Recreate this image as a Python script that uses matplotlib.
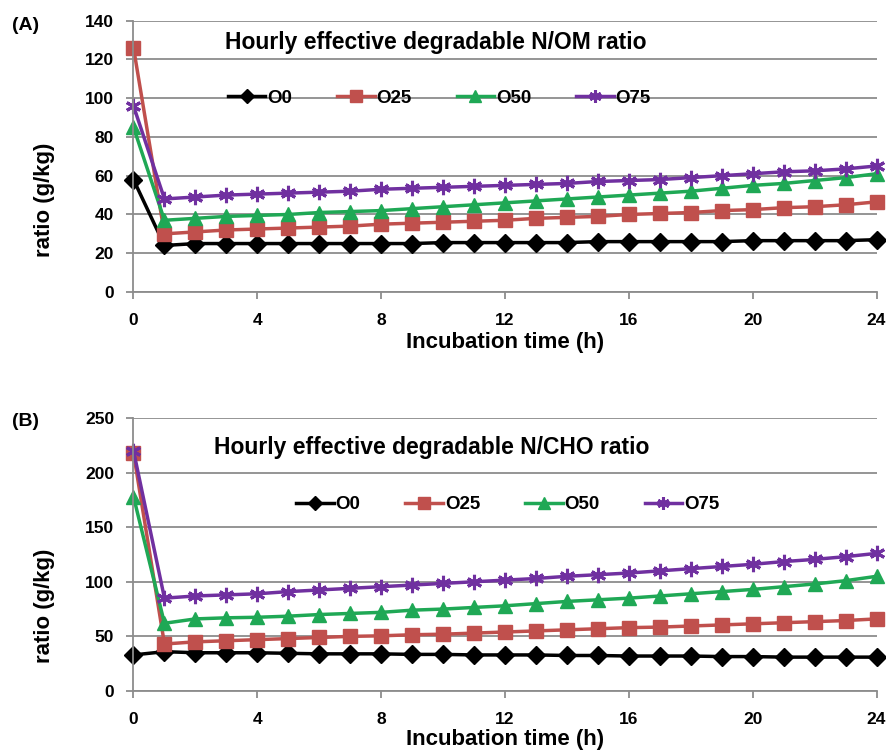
import matplotlib
matplotlib.use("Agg")
import matplotlib.pyplot as plt
import numpy as np

plt.rcParams['font.family'] = ['Liberation Sans', 'DejaVu Sans']
plt.rcParams['font.weight'] = 'bold'

hours = list(range(25))
series_names = ["O0", "O25", "O50", "O75"]

# Panel A: N/OM ratio
om_O0 = [58, 24, 25, 25, 25, 25, 25, 25, 25, 25, 25.5, 25.5, 25.5, 25.5, 25.5, 26, 26, 26, 26, 26, 26.5, 26.5, 26.5, 26.5, 27]
om_O25 = [126, 30, 31, 32, 32.5, 33, 33.5, 34, 35, 35.5, 36, 36.5, 37, 38, 38.5, 39, 40, 40.5, 41, 42, 42.5, 43.5, 44, 45, 46.5]
om_O50 = [85, 37, 38, 39, 39.5, 40, 41, 41.5, 42, 43, 44, 45, 46, 47, 48, 49, 50, 51, 52, 53.5, 55, 56, 57.5, 59, 61]
om_O75 = [96, 48, 49, 50, 50.5, 51, 51.5, 52, 53, 53.5, 54, 54.5, 55, 55.5, 56, 57, 57.5, 58, 59, 60, 61, 62, 62.5, 63.5, 65]

# Panel B: N/CHO ratio
cho_O0 = [33, 36, 35, 35, 35, 34.5, 34, 34, 34, 33.5, 33.5, 33, 33, 33, 32.5, 32.5, 32, 32, 32, 31.5, 31.5, 31, 31, 31, 31]
cho_O25 = [218, 43, 45, 46, 47, 48, 49, 50, 50.5, 51.5, 52, 53, 54, 55, 56, 57, 58, 58.5, 59.5, 60.5, 61.5, 62.5, 63.5, 64.5, 66]
cho_O50 = [178, 62, 66, 67, 67.5, 68.5, 70, 71, 72, 74, 75, 76.5, 78, 80, 82, 83.5, 85, 87, 89, 91, 93, 95.5, 98, 101, 105]
cho_O75 = [220, 85, 87, 88, 89, 91, 92.5, 94, 95.5, 97, 98.5, 100, 101.5, 103, 105, 106.5, 108, 110, 112, 114, 116, 118.5, 120.5, 123, 126]

colors = ["#000000", "#C0504D", "#1FA855", "#7030A0"]
markers = ["D", "s", "^", (6, 2, 0)]
msizes = [9, 10, 10, 11]

fig = plt.figure(figsize=(8.87, 7.55), dpi=100)
axA = fig.add_axes([0.1505, 0.6132, 0.8377, 0.3596])
axB = fig.add_axes([0.1505, 0.0848, 0.8377, 0.3616])

def draw(ax, data, ymax, ystep, title, title_pos, label, label_y, ylab_y, xlab_y, leg_anchor):
    for name, vals, c, m, ms in zip(series_names, data, colors, markers, msizes):
        ax.plot(hours, vals, color=c, marker=m, markersize=ms, lw=2.5,
                markeredgewidth=2.2 if m == (6, 2, 0) else 1, label=name, clip_on=False)
    ax.set_xlim(0, 24)
    ax.set_ylim(0, ymax)
    ax.set_xticks(range(0, 25, 4))
    ax.set_yticks(np.arange(0, ymax + 1, ystep))
    ax.grid(axis='y', color='#8c8c8c', lw=1.3)
    ax.set_axisbelow(True)
    for s in ['top', 'right']:
        ax.spines[s].set_visible(False)
    for s in ['left', 'bottom']:
        ax.spines[s].set_color('#8c8c8c')
        ax.spines[s].set_linewidth(1.3)
    ax.tick_params(axis='both', labelsize=12.5, color='#8c8c8c', width=1.3, length=5)
    ax.tick_params(axis='x', pad=10)
    ax.tick_params(axis='y', pad=9)
    for t in ax.get_xticklabels() + ax.get_yticklabels():
        t.set_fontweight('bold')
    ax.set_xlabel("Incubation time (h)", fontsize=16, fontweight='bold')
    ax.xaxis.set_label_coords(0.5, xlab_y)
    ax.set_ylabel("ratio (g/kg)", fontsize=16, fontweight='bold')
    ax.yaxis.set_label_coords(-0.106, ylab_y)
    ax.text(title_pos[0], title_pos[1], title, transform=ax.transAxes, fontsize=16.5,
            fontweight='bold', va='center', ha='left')
    fig.text(0.013, label_y, label, fontsize=14, fontweight='bold', va='center')
    leg = ax.legend(loc='center left', bbox_to_anchor=leg_anchor, ncol=4, frameon=False,
                    fontsize=13.5, handlelength=2.0, handletextpad=0.1, columnspacing=2.4,
                    borderaxespad=0, borderpad=0)
    for t in leg.get_texts():
        t.set_fontweight('bold')
    for h in leg.legend_handles:
        h.set_markersize(h.get_markersize() * 0.8)

draw(axA, [om_O0, om_O25, om_O50, om_O75], 140, 20,
     "Hourly effective degradable N/OM ratio", (0.123, 0.919), "(A)", 1 - 25 / 755,
     0.338, -0.147, (0.127, 0.713))
draw(axB, [cho_O0, cho_O25, cho_O50, cho_O75], 250, 50,
     "Hourly effective degradable N/CHO ratio", (0.108, 0.89), "(B)", 1 - 422 / 755,
     0.311, -0.139, (0.219, 0.683))

fig.savefig("out.png", dpi=100, facecolor='white')
